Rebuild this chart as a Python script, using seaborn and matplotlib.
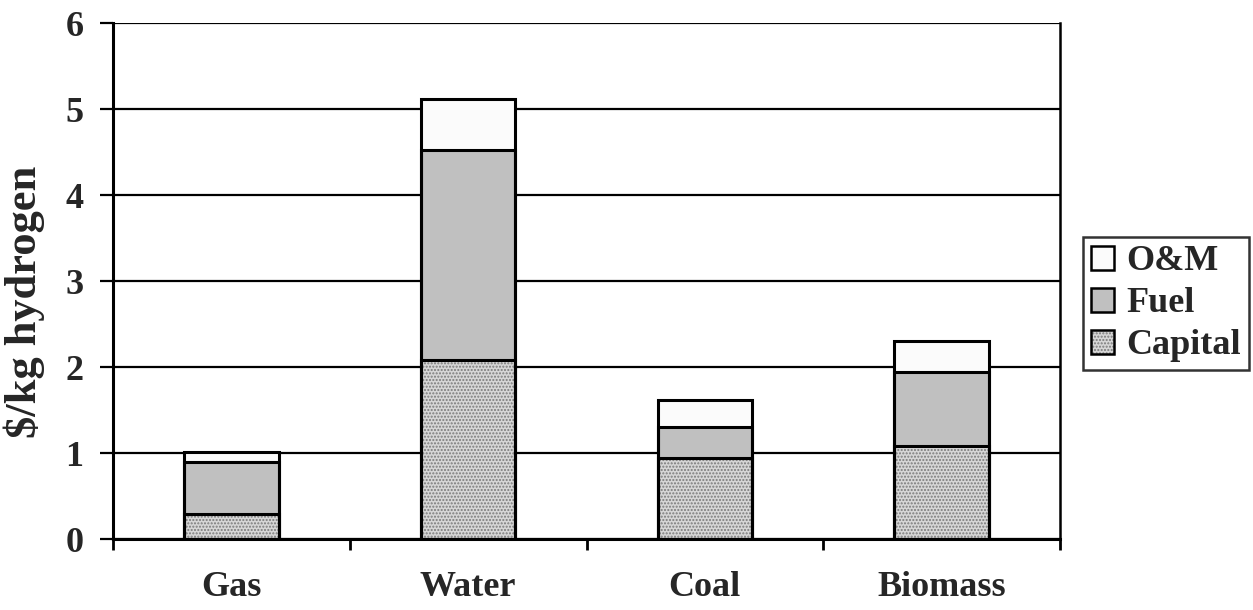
import matplotlib
matplotlib.use("Agg")
import matplotlib.pyplot as plt
import numpy as np
import pandas as pd
import seaborn as sns
from matplotlib.patches import Patch

# ---- data ----
categories = ["Gas", "Water", "Coal", "Biomass"]
capital = [0.29, 2.08, 0.94, 1.08]
fuel = [0.61, 2.44, 0.36, 0.86]
om = [0.11, 0.60, 0.32, 0.36]
series_names = ["Capital", "Fuel", "O&M"]
yticks = [0, 1, 2, 3, 4, 5, 6]
ylabel = "$/kg hydrogen"

sns.set_theme(style="white")
plt.rcParams["font.family"] = ["Liberation Serif", "DejaVu Serif"]
plt.rcParams["font.weight"] = "bold"
plt.rcParams["hatch.linewidth"] = 1.0

fig = plt.figure(figsize=(12.53, 6.1), dpi=100)
ax = fig.add_axes([113 / 1253, 71 / 610, 947 / 1253, 516 / 610])

cap_arr = np.array(capital)
fuel_arr = np.array(fuel)
om_arr = np.array(om)
df = pd.DataFrame({
    "cat": categories,
    "Capital": cap_arr,
    "Fuel": cap_arr + fuel_arr,
    "O&M": cap_arr + fuel_arr + om_arr,
})

styles = {
    "O&M": dict(color="#fbfbfb", hatch=None, hcol="#fbfbfb"),
    "Fuel": dict(color="#c0c0c0", hatch=None, hcol="#c0c0c0"),
    "Capital": dict(color="#d6d6d6", hatch=".....", hcol="#7a7a7a"),
}

ax.set_axisbelow(True)
for name in ["O&M", "Fuel", "Capital"]:
    st = styles[name]
    sns.barplot(data=df, x="cat", y=name, order=categories, ax=ax,
                color=st["color"], saturation=1, width=0.4,
                edgecolor=st["hcol"], hatch=st["hatch"], linewidth=0,
                zorder=2)
    sns.barplot(data=df, x="cat", y=name, order=categories, ax=ax,
                fill=False, saturation=1, width=0.4,
                edgecolor="black", linewidth=2.2, zorder=3)

ax.set_xlim(-0.5, 3.5)
ax.set_ylim(0, 6)
ax.set_yticks(yticks)
ax.set_yticklabels([str(t) for t in yticks], fontsize=26, fontweight="bold")
ax.grid(axis="y", color="black", linewidth=1.6)
ax.grid(axis="x", visible=False)

# category boundaries as major ticks, labels on minor ticks
ax.set_xticks(np.arange(-0.5, len(categories), 1.0))
ax.set_xticklabels([])
ax.set_xticks(np.arange(len(categories)), minor=True)
ax.set_xticklabels(categories, minor=True, fontsize=26, fontweight="bold")
ax.tick_params(axis="x", which="major", direction="out", length=8, width=2, color="black", bottom=True)
ax.tick_params(axis="x", which="minor", length=0, pad=23)
ax.tick_params(axis="y", direction="out", length=9.4, width=1.6, color="black", pad=12, left=True)

ax.spines["top"].set_visible(False)
ax.spines["right"].set_visible(True)
ax.spines["right"].set_color("black")
ax.spines["right"].set_linewidth(1.8)
for s in ["left", "bottom"]:
    ax.spines[s].set_color("black")
    ax.spines[s].set_linewidth(2.2)

ax.set_xlabel("")
ax.set_ylabel(ylabel, fontsize=32, fontweight="bold")
ax.yaxis.set_label_coords(-0.072, 0.46)

handles = []
for name in ["O&M", "Fuel", "Capital"]:
    st = styles[name]
    h1 = Patch(facecolor=st["color"], edgecolor=st["hcol"], hatch=st["hatch"], linewidth=0)
    h2 = Patch(fill=False, edgecolor="black", linewidth=1.8)
    handles.append((h1, h2))
leg = fig.legend(handles, ["O&M", "Fuel", "Capital"], loc="center left",
                 bbox_to_anchor=(1083 / 1253, 0.502), borderaxespad=0,
                 prop={"size": 26, "weight": "bold"}, frameon=True, fancybox=False,
                 handlelength=0.65, handleheight=0.65, handletextpad=0.33,
                 labelspacing=0.25, borderpad=0.22)
leg.get_frame().set_edgecolor("black")
leg.get_frame().set_linewidth(1.8)

fig.savefig("out.png", dpi=100)
